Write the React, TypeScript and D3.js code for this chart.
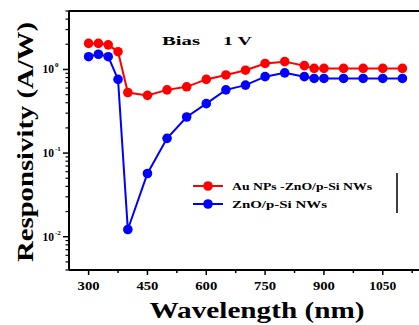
import React from "react";
import * as d3 from "d3";

const wavelengths = [300, 325, 350, 375, 400, 450, 500, 550, 600, 650, 700, 750, 800, 850, 875, 900, 950, 1000, 1050, 1100];
const auZnO = [2.05, 2.05, 1.97, 1.63, 0.53, 0.49, 0.57, 0.62, 0.76, 0.86, 0.98, 1.18, 1.24, 1.11, 1.03, 1.03, 1.03, 1.03, 1.03, 1.03];
const znO = [1.42, 1.52, 1.42, 0.76, 0.0122, 0.057, 0.15, 0.27, 0.39, 0.57, 0.65, 0.82, 0.91, 0.82, 0.78, 0.78, 0.78, 0.78, 0.78, 0.78];
const seriesNames = ["Au NPs -ZnO/p-Si NWs", "ZnO/p-Si NWs"];
const seriesColors = ["#ff0000", "#0000ff"];
const xTicks = [300, 450, 600, 750, 900, 1050];
const yTickExps = [0, -1, -2];

const W = 419;
const H = 325;
const M = { left: 69, top: 11, right: 422, bottom: 270 };
const FONT = "'Liberation Serif', 'Times New Roman', serif";

export default function App() {
  const x = d3.scaleLinear().domain([250, 1150]).range([M.left, M.right]);
  const y = d3.scaleLog().domain([0.004, 5]).range([M.bottom, M.top]);
  const line = d3
    .line<[number, number]>()
    .x((d) => x(d[0]))
    .y((d) => y(d[1]));

  const series = [auZnO, znO];
  const minorX = d3.range(300, 1150, 75).filter((v) => !xTicks.includes(v));
  const yMinor: number[] = [];
  for (let e = -3; e <= 0; e++) {
    for (let k = 2; k <= 9; k++) {
      const v = k * Math.pow(10, e);
      if (v >= 0.004 && v <= 5) yMinor.push(v);
    }
  }
  const legendLens = [140, 95];

  return (
    <svg width={W} height={H} style={{ position: "absolute", left: 0, top: 0, background: "#fff" }}>
      <rect x={0} y={0} width={W} height={H} fill="#fff" />
      {/* frame */}
      <line x1={M.left} x2={M.right} y1={M.top} y2={M.top} stroke="#000" strokeWidth={2} />
      <line x1={M.left} x2={M.left} y1={M.top} y2={M.bottom} stroke="#000" strokeWidth={2} />
      <line x1={M.left} x2={M.right} y1={M.bottom} y2={M.bottom} stroke="#000" strokeWidth={2} />
      <line x1={M.right} x2={M.right} y1={M.top} y2={M.bottom} stroke="#000" strokeWidth={2} />
      {/* x ticks */}
      {xTicks.map((t) => (
        <g key={"xt" + t}>
          <line x1={x(t)} x2={x(t)} y1={M.bottom} y2={M.bottom + 5} stroke="#000" strokeWidth={1.5} />
          <text
            x={x(t)}
            y={290}
            textAnchor="middle"
            fontFamily={FONT}
            fontWeight="bold"
            fontSize={11.5}
            textLength={t >= 1000 ? 27 : 22}
            lengthAdjust="spacingAndGlyphs"
          >
            {t}
          </text>
        </g>
      ))}
      {minorX.map((t) => (
        <line key={"xm" + t} x1={x(t)} x2={x(t)} y1={M.bottom} y2={M.bottom + 3} stroke="#000" strokeWidth={1.5} />
      ))}
      {/* y ticks */}
      {yTickExps.map((e) => (
        <g key={"yt" + e}>
          <line x1={M.left - 6} x2={M.left} y1={y(Math.pow(10, e))} y2={y(Math.pow(10, e))} stroke="#000" strokeWidth={1.5} />
          <text x={54} y={y(Math.pow(10, e)) + 4} textAnchor="end" fontFamily={FONT} fontWeight="bold" fontSize={11.5}>
            10
          </text>
          <text x={55} y={y(Math.pow(10, e)) - 2} textAnchor="start" fontFamily={FONT} fontWeight="bold" fontSize={7}>
            {e}
          </text>
        </g>
      ))}
      {yMinor.map((v, i) => (
        <line key={"ym" + i} x1={M.left - 3.5} x2={M.left} y1={y(v)} y2={y(v)} stroke="#000" strokeWidth={1.2} />
      ))}
      {/* series */}
      {series.map((vals, si) => {
        const pts = wavelengths.map((w, i) => [w, vals[i]] as [number, number]);
        return (
          <g key={"s" + si}>
            <path d={line(pts) || ""} fill="none" stroke={seriesColors[si]} strokeWidth={2} />
            {pts.map((p, i) => (
              <circle key={i} cx={x(p[0])} cy={y(p[1])} r={4.8} fill={seriesColors[si]} />
            ))}
          </g>
        );
      })}
      {/* annotation */}
      <text x={162} y={45} fontFamily={FONT} fontWeight="bold" fontSize={13} textLength={38} lengthAdjust="spacingAndGlyphs">
        Bias
      </text>
      <text x={223} y={45} fontFamily={FONT} fontWeight="bold" fontSize={13} textLength={29} lengthAdjust="spacingAndGlyphs">
        1 V
      </text>
      {/* legend */}
      {seriesNames.map((n, i) => (
        <g key={"lg" + i}>
          <line x1={193} x2={223} y1={186 + i * 18} y2={186 + i * 18} stroke={seriesColors[i]} strokeWidth={2} />
          <circle cx={208} cy={186 + i * 18} r={4.8} fill={seriesColors[i]} />
          <text
            x={232}
            y={189.5 + i * 18}
            fontFamily={FONT}
            fontWeight="bold"
            fontSize={10}
            textLength={legendLens[i]}
            lengthAdjust="spacingAndGlyphs"
          >
            {n}
          </text>
        </g>
      ))}
      <line x1={397} x2={397} y1={173} y2={213} stroke="#000" strokeWidth={1.5} />
      {/* axis titles */}
      <text
        x={257}
        y={318}
        textAnchor="middle"
        fontFamily={FONT}
        fontWeight="bold"
        fontSize={23}
        textLength={215}
        lengthAdjust="spacingAndGlyphs"
      >
        Wavelength (nm)
      </text>
      <text
        transform={`translate(33,142) rotate(-90)`}
        textAnchor="middle"
        fontFamily={FONT}
        fontWeight="bold"
        fontSize={24}
        textLength={240}
        lengthAdjust="spacingAndGlyphs"
      >
        Responsivity (A/W)
      </text>
    </svg>
  );
}
